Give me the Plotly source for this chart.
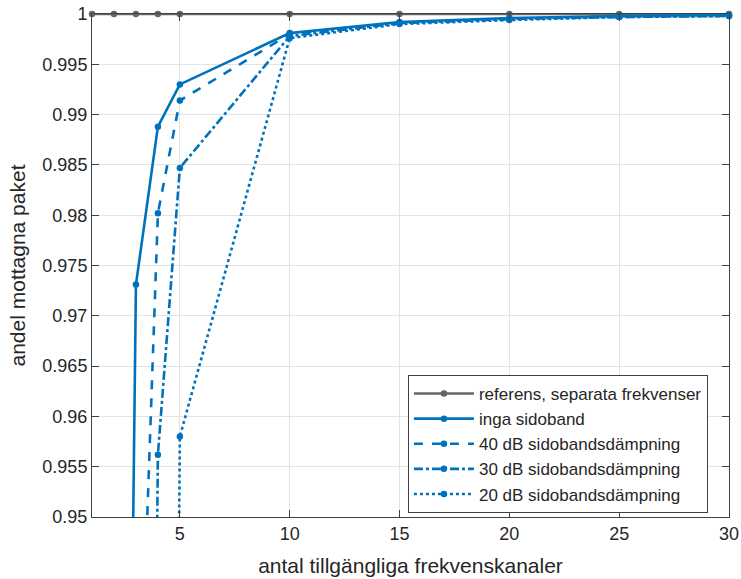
import plotly.graph_objects as go

x_ref = [1, 2, 3, 4, 5, 10, 15, 20, 25, 30]
y_ref = [1, 1, 1, 1, 1, 1, 1, 1, 1, 1]

x_inga = [2, 3, 4, 5, 10, 15, 20, 25, 30]
y_inga = [0.785, 0.9731, 0.9888, 0.9930, 0.9981, 0.9992, 0.9996, 0.9998, 0.9999]

x_40 = [3, 4, 5, 10, 15, 20, 25, 30]
y_40 = [0.918, 0.9802, 0.9914, 0.9980, 0.9991, 0.9995, 0.9998, 0.9999]

x_30 = [3, 4, 5, 10, 15, 20, 25, 30]
y_30 = [0.74, 0.9562, 0.9847, 0.9978, 0.9991, 0.9995, 0.9997, 0.9998]

x_20 = [4, 5, 10, 15, 20, 25, 30]
y_20 = [0.71, 0.9580, 0.9976, 0.9990, 0.9994, 0.9997, 0.9998]

names = ["referens, separata frekvenser", "inga sidoband", "40 dB sidobandsdämpning",
         "30 dB sidobandsdämpning", "20 dB sidobandsdämpning"]

x_ticks = [5, 10, 15, 20, 25, 30]
y_ticks = [0.95, 0.955, 0.96, 0.965, 0.97, 0.975, 0.98, 0.985, 0.99, 0.995, 1.0]
y_ticktext = ["0.95", "0.955", "0.96", "0.965", "0.97", "0.975", "0.98", "0.985", "0.99", "0.995", "1"]

GRAY = "#666666"
BLUE = "#0072BD"
FONT = "Liberation Sans, Arial, Helvetica, sans-serif"

fig = go.Figure()
series = [
    (x_ref, y_ref, names[0], GRAY, "solid"),
    (x_inga, y_inga, names[1], BLUE, "solid"),
    (x_40, y_40, names[2], BLUE, "dash"),
    (x_30, y_30, names[3], BLUE, "dashdot"),
    (x_20, y_20, names[4], BLUE, "dot"),
]
for xs, ys, nm, col, dash in series:
    fig.add_trace(go.Scatter(
        x=xs, y=ys, name=nm, mode="lines+markers",
        line=dict(color=col, width=2.6, dash=dash),
        marker=dict(color=col, size=6.5, symbol="circle"),
        cliponaxis=False,
    ))

axis_common = dict(
    showline=True, linecolor="#404040", linewidth=1, mirror="ticks",
    ticks="inside", ticklen=7, tickcolor="#404040", automargin=False,
    showgrid=True, gridcolor="#e3e3e3", gridwidth=1, zeroline=False,
    tickfont=dict(family=FONT, size=18, color="#262626"),
)

fig.update_layout(
    width=741, height=579,
    margin=dict(l=92, r=12, t=14, b=62),
    paper_bgcolor="white", plot_bgcolor="white",
    font=dict(family=FONT, color="#262626"),
    xaxis=dict(range=[1, 30], tickvals=x_ticks, ticktext=[str(v) for v in x_ticks],
               title=dict(text="antal tillgängliga frekvenskanaler", font=dict(size=21), standoff=15),
               **axis_common),
    yaxis=dict(range=[0.95, 1.0], tickvals=y_ticks, ticktext=y_ticktext,
               title=dict(text="andel mottagna paket", font=dict(size=21), standoff=11),
               **axis_common),
    legend=dict(x=0.496, y=0.2823, xanchor="left", yanchor="top",
                bgcolor="white", bordercolor="#404040", borderwidth=1,
                font=dict(size=17, color="#262626"), tracegroupgap=0,
                itemwidth=60),
    showlegend=True,
)

fig.write_html("out.html",
               config={"displayModeBar": False},
               post_script="document.body.style.margin='0';document.body.style.overflow='hidden';")
